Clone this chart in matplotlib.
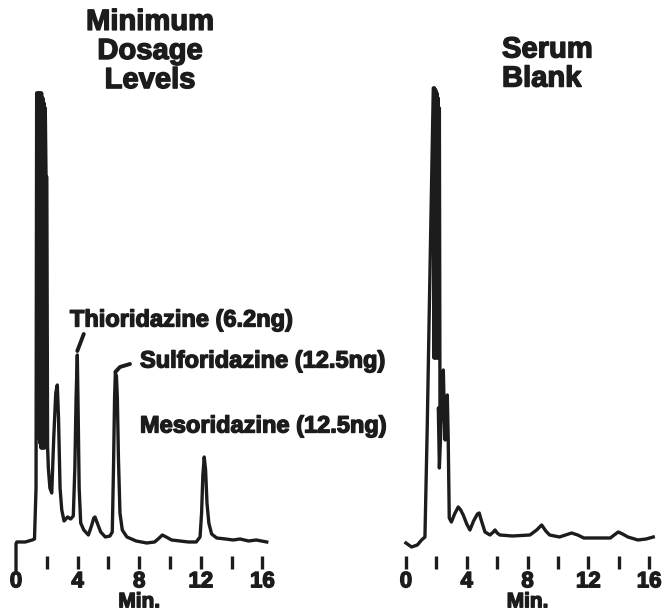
import matplotlib
matplotlib.use("Agg")
import matplotlib.pyplot as plt
import matplotlib.patheffects as pe

# retention time (min) and detector response
left_t = [0.0, 0.0, 0.05, 0.6, 1.05, 1.20, 1.30, 1.34, 1.38, 1.42, 1.46, 1.50, 1.54,
          1.58, 1.62, 1.66, 1.70, 1.74, 1.78, 1.82, 1.86, 1.90, 1.95, 2.00, 2.05,
          2.10, 2.20, 2.32, 2.45, 2.58, 2.68, 2.76, 2.86, 2.97, 3.12, 3.35, 3.55,
          3.72, 3.82, 3.90, 3.98, 4.04, 4.10, 4.20, 4.40, 4.70, 4.90, 5.05, 5.13,
          5.25, 5.50, 5.80, 6.10, 6.25, 6.33, 6.40, 6.45, 6.52, 6.58, 6.65, 6.75,
          6.90, 7.20, 7.80, 8.49, 9.00, 9.30, 9.50, 9.75, 10.10, 10.65, 11.20,
          11.70, 11.95, 12.05, 12.13, 12.22, 12.31, 12.40, 12.52, 12.70, 13.03,
          13.60, 14.10, 14.55, 15.10, 15.60, 16.28]
left_s = [-24, 4, 6, 6, 8, 9, 60, 455, 110, 455, 110, 455, 105, 455, 100, 455,
          100, 450, 100, 445, 100, 440, 371, 371, 101, 80, 60, 55, 110, 155, 163,
          130, 60, 38, 27, 31, 29, 32, 80, 150, 193, 130, 60, 25, 18, 13, 22, 30,
          31, 26, 16, 11, 12, 16, 80, 150, 175, 172, 150, 90, 35, 18, 11, 7, 5, 6,
          10, 13, 11, 8, 7, 6, 6, 11, 35, 72, 91, 78, 45, 25, 14, 10, 9, 8, 9, 7,
          8, 6]

right_t = [0.0, 0.37, 0.75, 1.03, 1.25, 1.40, 1.55, 1.80, 1.84, 1.88, 1.92, 1.96,
           2.00, 2.04, 2.08, 2.12, 2.16, 2.20, 2.24, 2.13, 2.20, 2.30, 2.40, 2.46,
           2.53, 2.58, 2.66, 2.72, 2.78, 2.85, 2.99, 3.20, 3.44, 3.60, 3.77, 4.00,
           4.21, 4.45, 4.70, 4.82, 4.95, 5.20, 5.53, 5.75, 5.86, 6.00, 6.18, 7.00,
           8.16, 8.60, 8.93, 9.20, 9.45, 10.10, 10.50, 10.90, 11.30, 11.70, 12.60,
           13.45, 13.70, 13.97, 14.25, 14.60, 15.26, 15.80, 16.27]
right_s = [5, 1, 3, 8, 11, 120, 250, 460, 190, 460, 190, 458, 190, 455, 190, 450,
           190, 440, 135, 140, 80, 120, 170, 178, 130, 108, 140, 153, 110, 30, 26,
           34, 41, 38, 33, 24, 18, 27, 34, 35, 28, 16, 13, 16, 18, 15, 13, 12, 13,
           18, 23, 17, 13, 11, 13, 15, 13, 10, 10, 10, 13, 16, 14, 11, 8, 9, 11]

tick_pos = list(range(0, 17, 2))
tick_labels = ["0", "", "4", "", "8", "", "12", "", "16"]

peak_names = ["Thioridazine (6.2ng)", "Sulforidazine (12.5ng)", "Mesoridazine (12.5ng)"]
peak_label_xy = [(3.5, 228), (8.05, 187), (8.05, 122)]

ink = "#1c1c1c"
font = "Liberation Sans"
thick = [pe.withStroke(linewidth=1.0, foreground=ink)]

fig = plt.figure(figsize=(6.65, 6.13), dpi=100)
ax1 = fig.add_axes([0.0125, 0.093, 0.3937, 0.7798])
ax2 = fig.add_axes([0.599, 0.093, 0.3886, 0.7798])

for ax, t, s in [(ax1, left_t, left_s), (ax2, right_t, right_s)]:
    ax.plot(t, s, color=ink, lw=2.4, solid_joinstyle="round", clip_on=False)
    ax.set_xlim(-0.5, 16.5)
    ax.set_ylim(-8, 470)
    for sp in ax.spines.values():
        sp.set_visible(False)
    ax.set_yticks([])
    ax.set_xticks(tick_pos)
    ax.set_xticklabels(tick_labels, fontsize=16, fontweight="bold", family=font,
                       color=ink, path_effects=thick)
    ax.tick_params(axis="x", length=9, width=2.4, color=ink, pad=2)
    ax.set_xlabel("Min.", fontsize=15, fontweight="bold", family=font, color=ink,
                  labelpad=0, path_effects=thick)

# the trace itself marks zero on the left panel
ax1.xaxis.get_major_ticks()[0].tick1line.set_visible(False)

# peak labels and their leader marks
for name, (x, y) in zip(peak_names, peak_label_xy):
    ax1.text(x, y, name, fontsize=17, fontweight="bold", family=font, color=ink,
             va="center", ha="left", path_effects=thick, clip_on=False)
ax1.plot([3.98, 4.4], [197, 214], color=ink, lw=2.8, solid_capstyle="round",
         clip_on=False)
ax1.plot([6.45, 6.75, 7.4], [176, 181, 184], color=ink, lw=2.8,
         solid_capstyle="round", clip_on=False)

fig.text(150 / 665, 1 - 51 / 613, "Minimum\nDosage\nLevels", ha="center", va="center",
         fontsize=21, fontweight="bold", family=font, color=ink, linespacing=1.05,
         path_effects=thick)
fig.text(502 / 665, 1 - 64 / 613, "Serum\nBlank", ha="left", va="center",
         fontsize=21, fontweight="bold", family=font, color=ink, linespacing=1.05,
         path_effects=thick)

fig.savefig("out.png", dpi=100)
